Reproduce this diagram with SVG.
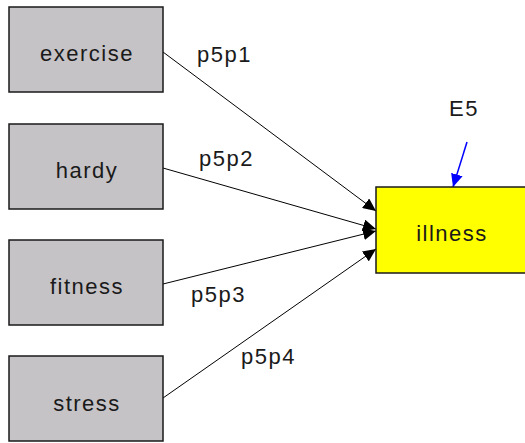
<svg xmlns="http://www.w3.org/2000/svg" width="525" height="443" viewBox="0 0 525 443">
<style>
.box{fill:#c6c3c6;stroke:#1a1a1a;stroke-width:1.5}
.ybox{fill:#ffff00;stroke:#1a1a1a;stroke-width:1.5}
text{font-family:"Liberation Sans",Arial,sans-serif;font-size:22px;fill:#1a1a1a;letter-spacing:1.5px}
.c{text-anchor:middle}
.ln{stroke:#000;stroke-width:1;fill:none;marker-end:url(#ah)}
.bl{stroke:#0000ff;stroke-width:1.5;fill:none;marker-end:url(#bh)}
</style>
<defs>
<marker id="ah" markerWidth="14" markerHeight="12" refX="13" refY="6" orient="auto" markerUnits="userSpaceOnUse">
<path d="M0,0 L13,6 L0,12 Z" fill="#000"/>
</marker>
<marker id="bh" markerWidth="14" markerHeight="12" refX="13" refY="6" orient="auto" markerUnits="userSpaceOnUse">
<path d="M0,0 L13,6 L0,12 Z" fill="#0000ff"/>
</marker>
</defs>
<g id="connectors">
<line class="ln" x1="163" y1="52" x2="376" y2="211"/>
<line class="ln" x1="163" y1="168" x2="376" y2="229"/>
<line class="ln" x1="163" y1="284" x2="376" y2="231"/>
<line class="ln" x1="163" y1="398" x2="376" y2="249"/>
<line class="bl" x1="467" y1="142" x2="453" y2="187"/>
<text x="197" y="62">p5p1</text>
<text x="199" y="166">p5p2</text>
<text x="191" y="302">p5p3</text>
<text x="241" y="364">p5p4</text>
<text x="464" y="116" class="c">E5</text>
</g>
<g id="exercise"><rect class="box" x="9" y="7" width="154" height="85"/><text class="c" x="87" y="61">exercise</text></g>
<g id="hardy"><rect class="box" x="9" y="124" width="154" height="85"/><text class="c" x="87" y="178">hardy</text></g>
<g id="fitness"><rect class="box" x="9" y="240" width="154" height="85"/><text class="c" x="87" y="294">fitness</text></g>
<g id="stress"><rect class="box" x="9" y="356" width="154" height="85"/><text class="c" x="87" y="411">stress</text></g>
<g id="illness"><rect class="ybox" x="376" y="187" width="152" height="86"/><text class="c" x="452" y="241">illness</text></g>
</svg>
